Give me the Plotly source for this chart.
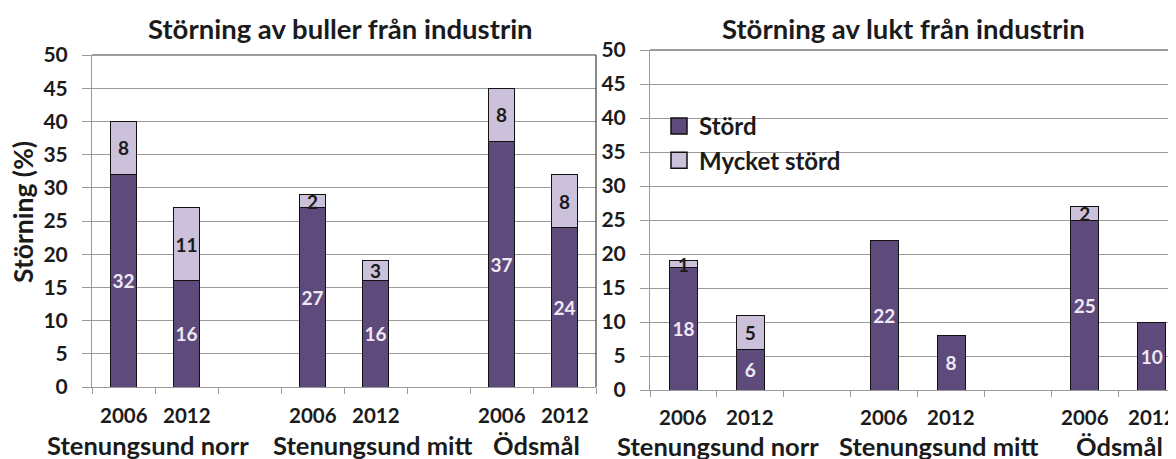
import plotly.graph_objects as go

# ---- data ----
years = ["2006", "2012", "", "2006", "2012", "", "2006", "2012"]
areas = ["Stenungsund norr", "Stenungsund mitt", "Ödsmål"]
series_names = ["Störd", "Mycket störd"]

buller_stord = [32, 16, None, 27, 16, None, 37, 24]
buller_mycket = [8, 11, None, 2, 3, None, 8, 8]

lukt_stord = [18, 6, None, 22, 8, None, 25, 10]
lukt_mycket = [1, 5, None, 0, 0, None, 2, 0]

titles = ["Störning av buller från industrin", "Störning av lukt från industrin"]
y_title = "Störning (%)"

# ---- style ----
W, H = 1176, 459
OFF = 8  # page body margin offset
FONT = "Lato"
DARK = "#5F4A7C"
LIGHT = "#CCC1DA"
TXT = "#1b1b1b"
GRID = "#9a9a9a"
BORDER = "#3a3a3a"


def fx(px):
    return (px - OFF) / W


def fy(py):
    return 1 - (py - OFF) / H


pos = list(range(len(years)))


def lbl(vals):
    return ["" if (v is None or v == 0) else str(v) for v in vals]


fig = go.Figure()

for (stord, mycket, xa, ya) in [(buller_stord, buller_mycket, "x", "y"),
                                (lukt_stord, lukt_mycket, "x2", "y2")]:
    fig.add_trace(go.Bar(
        x=pos, y=stord, name=series_names[0], xaxis=xa, yaxis=ya,
        marker=dict(color=DARK, line=dict(color="#111111", width=1)),
        width=0.42, text=lbl(stord), textposition="inside",
        insidetextanchor="middle", textangle=0, constraintext="none",
        textfont=dict(family=FONT, size=19, color="#EEE8F4", weight="bold"),
        showlegend=False))
    fig.add_trace(go.Bar(
        x=pos, y=mycket, name=series_names[1], xaxis=xa, yaxis=ya,
        marker=dict(color=LIGHT, line=dict(color="#111111", width=1)),
        width=0.42, text=lbl(mycket), textposition="inside",
        insidetextanchor="middle", textangle=0, constraintext="none",
        textfont=dict(family=FONT, size=19, color=TXT, weight="bold"),
        showlegend=False))

# legend proxies (bigger square symbols)
for name, col in zip(series_names, [DARK, LIGHT]):
    fig.add_trace(go.Scatter(
        x=[None], y=[None], mode="markers", name=name, xaxis="x2", yaxis="y2",
        marker=dict(symbol="square", size=16, color=col,
                    line=dict(color="#111111", width=1.5)),
        showlegend=True))

# axes geometry in screen pixels
L = dict(x0=92, x1=596, y0=387, y1=55)
R = dict(x0=650, y0=390, y1=50)
slotR = 66.9
r_end = -0.5 + (W + OFF - R["x0"]) / slotR

common_y = dict(range=[0, 50], dtick=5, showgrid=True, gridcolor=GRID, gridwidth=1,
                ticks="outside", ticklen=9, tickcolor=GRID, showline=True,
                linecolor=GRID, linewidth=1, zeroline=False, automargin=False,
                tickfont=dict(family=FONT, size=21, color=TXT, weight="bold"),
                ticklabelstandoff=10, fixedrange=True)
common_x = dict(tickmode="array", tickvals=[i - 0.5 for i in range(9)],
                showticklabels=False, ticks="outside", ticklen=6, tickcolor=GRID,
                showgrid=False, showline=True, linecolor=GRID, linewidth=1,
                zeroline=False, fixedrange=True, automargin=False)

fig.update_layout(
    width=W, height=H, margin=dict(l=0, r=0, t=0, b=0, autoexpand=False),
    paper_bgcolor="white", plot_bgcolor="white", barmode="stack",
    font=dict(family=FONT, color=TXT),
    xaxis=dict(common_x, domain=[fx(L["x0"]), fx(L["x1"])], range=[-0.5, 7.5], anchor="y"),
    yaxis=dict(common_y, domain=[fy(L["y0"]), fy(L["y1"])], anchor="x"),
    xaxis2=dict(common_x, domain=[fx(R["x0"]), 1.0], range=[-0.5, r_end], anchor="y2"),
    yaxis2=dict(common_y, domain=[fy(R["y0"]), fy(R["y1"])], anchor="x2"),
    legend=dict(x=fx(659), y=fy(104), xanchor="left", yanchor="top",
                traceorder="normal",
                font=dict(family=FONT, size=24, color=TXT, weight="bold"),
                bgcolor="rgba(0,0,0,0)", itemclick=False, tracegroupgap=0),
    showlegend=True,
)

# plot-area frame (top / right), dark
shapes = [
    dict(type="line", xref="x domain", yref="y domain", x0=0, x1=1, y0=1, y1=1,
         line=dict(color=BORDER, width=1.2)),
    dict(type="line", xref="x domain", yref="y domain", x0=1, x1=1, y0=0, y1=1,
         line=dict(color=BORDER, width=1.2)),
    dict(type="line", xref="x2 domain", yref="y2 domain", x0=0, x1=1, y0=1, y1=1,
         line=dict(color=BORDER, width=1.2)),
]
fig.update_layout(shapes=shapes)


def text_ann(text, x, y, size, xref="paper", angle=0):
    return dict(text=text, x=x, y=y, xref=xref, yref="paper", showarrow=False,
                xanchor="center", yanchor="middle", textangle=angle,
                font=dict(family=FONT, size=size, color=TXT, weight="bold"))


ann = []
ann.append(text_ann(titles[0], fx(340), fy(28), 27.5))
ann.append(text_ann(titles[1], fx(903), fy(28), 27.5))
ann.append(text_ann(y_title, fx(23), fy(212), 26.5, angle=-90))
for xa, ypx in [("x", 415), ("x2", 417)]:
    for i, yr in enumerate(years):
        if yr:
            ann.append(text_ann(yr, i, fy(ypx), 20.5, xref=xa))
for name, px in zip(areas, [148, 373, 536]):
    ann.append(text_ann(name, fx(px), fy(445), 25.5))
for name, px in zip(areas, [718, 939, 1119]):
    ann.append(text_ann(name, fx(px), fy(446), 25.5))
fig.update_layout(annotations=ann)

fig.write_html("out.html")
